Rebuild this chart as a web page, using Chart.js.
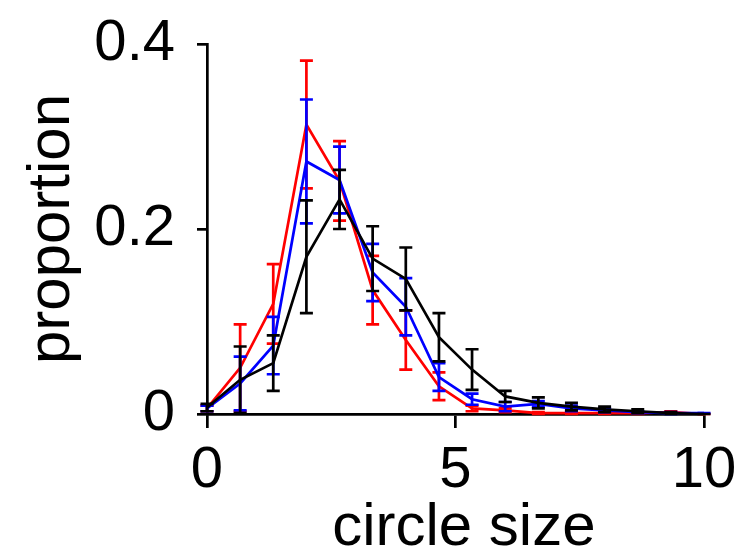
<!DOCTYPE html>
<html>
<head>
<meta charset="utf-8">
<script src="https://cdn.jsdelivr.net/npm/chart.js@4.4.1/dist/chart.umd.min.js"></script>
<style>
  html, body { margin: 0; padding: 0; background: #fff; }
  #wrap { width: 740px; height: 552px; }
</style>
</head>
<body>
<div id="wrap"><canvas id="c" width="740" height="552"></canvas></div>
<script>
const circleSize = [0, 0.667, 1.333, 2, 2.667, 3.333, 4, 4.667, 5.333, 6, 6.667, 7.333, 8, 8.667, 9.333, 10];

const redMean  = [0.006, 0.050, 0.119, 0.313, 0.252, 0.134, 0.080, 0.030, 0.006, 0.004, 0.001, 0.001, 0.001, 0.001, 0.002, 0.000];
const redErr   = [0.003, 0.047, 0.043, 0.069, 0.043, 0.037, 0.032, 0.015, 0.003, 0.002, 0.001, 0.001, 0.001, 0.001, 0.001, 0.000];

const blueMean = [0.006, 0.033, 0.074, 0.273, 0.253, 0.153, 0.116, 0.040, 0.016, 0.008, 0.011, 0.006, 0.004, 0.002, 0.001, 0.001];
const blueErr  = [0.003, 0.029, 0.031, 0.067, 0.036, 0.031, 0.031, 0.015, 0.006, 0.005, 0.003, 0.003, 0.002, 0.001, 0.001, 0.000];

const blackMean = [0.007, 0.037, 0.055, 0.170, 0.232, 0.168, 0.146, 0.083, 0.048, 0.019, 0.012, 0.008, 0.005, 0.003, 0.001, 0.000];
const blackErr  = [0.004, 0.036, 0.030, 0.061, 0.032, 0.035, 0.034, 0.026, 0.022, 0.006, 0.006, 0.004, 0.003, 0.002, 0.001, 0.000];

const xTicks = [0, 5, 10];
const yTicks = [0, 0.2, 0.4];

function pts(mean) { return circleSize.map((x, i) => ({ x: x, y: mean[i] })); }

const errorBarPlugin = {
  id: 'errorBars',
  afterDatasetDraw(chart, args) {
    const ds = chart.data.datasets[args.index];
    if (!ds.errors) return;
    const ctx = chart.ctx;
    const xs = chart.scales.x, ys = chart.scales.y;
    ctx.save();
    ctx.strokeStyle = ds.borderColor;
    ctx.lineWidth = 2.7;
    const cap = 6.5;
    ds.data.forEach((p, i) => {
      const e = ds.errors[i];
      const px = xs.getPixelForValue(p.x);
      const top = ys.getPixelForValue(p.y + e);
      const bot = ys.getPixelForValue(Math.max(0, p.y - e));
      ctx.beginPath();
      ctx.moveTo(px, top); ctx.lineTo(px, bot);
      ctx.moveTo(px - cap, top); ctx.lineTo(px + cap, top);
      ctx.moveTo(px - cap, bot); ctx.lineTo(px + cap, bot);
      ctx.stroke();
    });
    ctx.restore();
  }
};

Chart.defaults.font.family = '"Liberation Sans", Arial, sans-serif';
Chart.defaults.color = '#000';

new Chart(document.getElementById('c'), {
  type: 'line',
  data: {
    datasets: [
      { label: 'black', data: pts(blackMean), errors: blackErr, borderColor: '#000000', borderWidth: 2.7, pointRadius: 0, tension: 0, fill: false },
      { label: 'blue', data: pts(blueMean), errors: blueErr, borderColor: '#0000ff', borderWidth: 2.7, pointRadius: 0, tension: 0, fill: false },
      { label: 'red', data: pts(redMean), errors: redErr, borderColor: '#ff0000', borderWidth: 2.7, pointRadius: 0, tension: 0, fill: false }
    ]
  },
  options: {
    responsive: false,
    animation: false,
    events: [],
    clip: false,
    layout: { padding: { left: 0, right: 36, top: 44, bottom: 0 } },
    plugins: { legend: { display: false }, tooltip: { enabled: false } },
    scales: {
      x: {
        type: 'linear', min: 0, max: 10,
        afterFit(s) { s.height = 138; s.paddingLeft = 0; s.paddingRight = 0; },
        afterBuildTicks(s) { s.ticks = xTicks.map(v => ({ value: v })); },
        border: { display: true, color: '#000', width: 2.7 },
        grid: { display: true, drawOnChartArea: false, drawTicks: true, tickLength: 14, color: '#000', lineWidth: 2.7 },
        ticks: { font: { size: 58, lineHeight: 1.2 }, padding: 8, maxRotation: 0, autoSkip: false, color: '#000',
                 callback: v => String(v) },
        title: { display: true, text: ' circle size', font: { size: 60, lineHeight: 0.8 }, color: '#000', padding: { top: 0, bottom: 0 } }
      },
      y: {
        type: 'linear', min: 0, max: 0.4,
        afterFit(s) { s.width = 207; s.paddingTop = 0; s.paddingBottom = 0; },
        afterBuildTicks(s) { s.ticks = yTicks.map(v => ({ value: v })); },
        border: { display: true, color: '#000', width: 2.7 },
        grid: { display: true, drawOnChartArea: false, drawTicks: true, tickLength: 10, color: '#000', lineWidth: 2.7 },
        ticks: { font: { size: 58, lineHeight: 1.2 }, padding: 22, autoSkip: false, color: '#000',
                 callback: v => (v === 0 ? '0' : String(Math.round(v * 10) / 10)) },
        title: { display: true, text: 'proportion', font: { size: 60, lineHeight: 1.2 }, color: '#000', padding: { top: 16, bottom: 0 } }
      }
    }
  },
  plugins: [errorBarPlugin]
});
</script>
</body>
</html>
